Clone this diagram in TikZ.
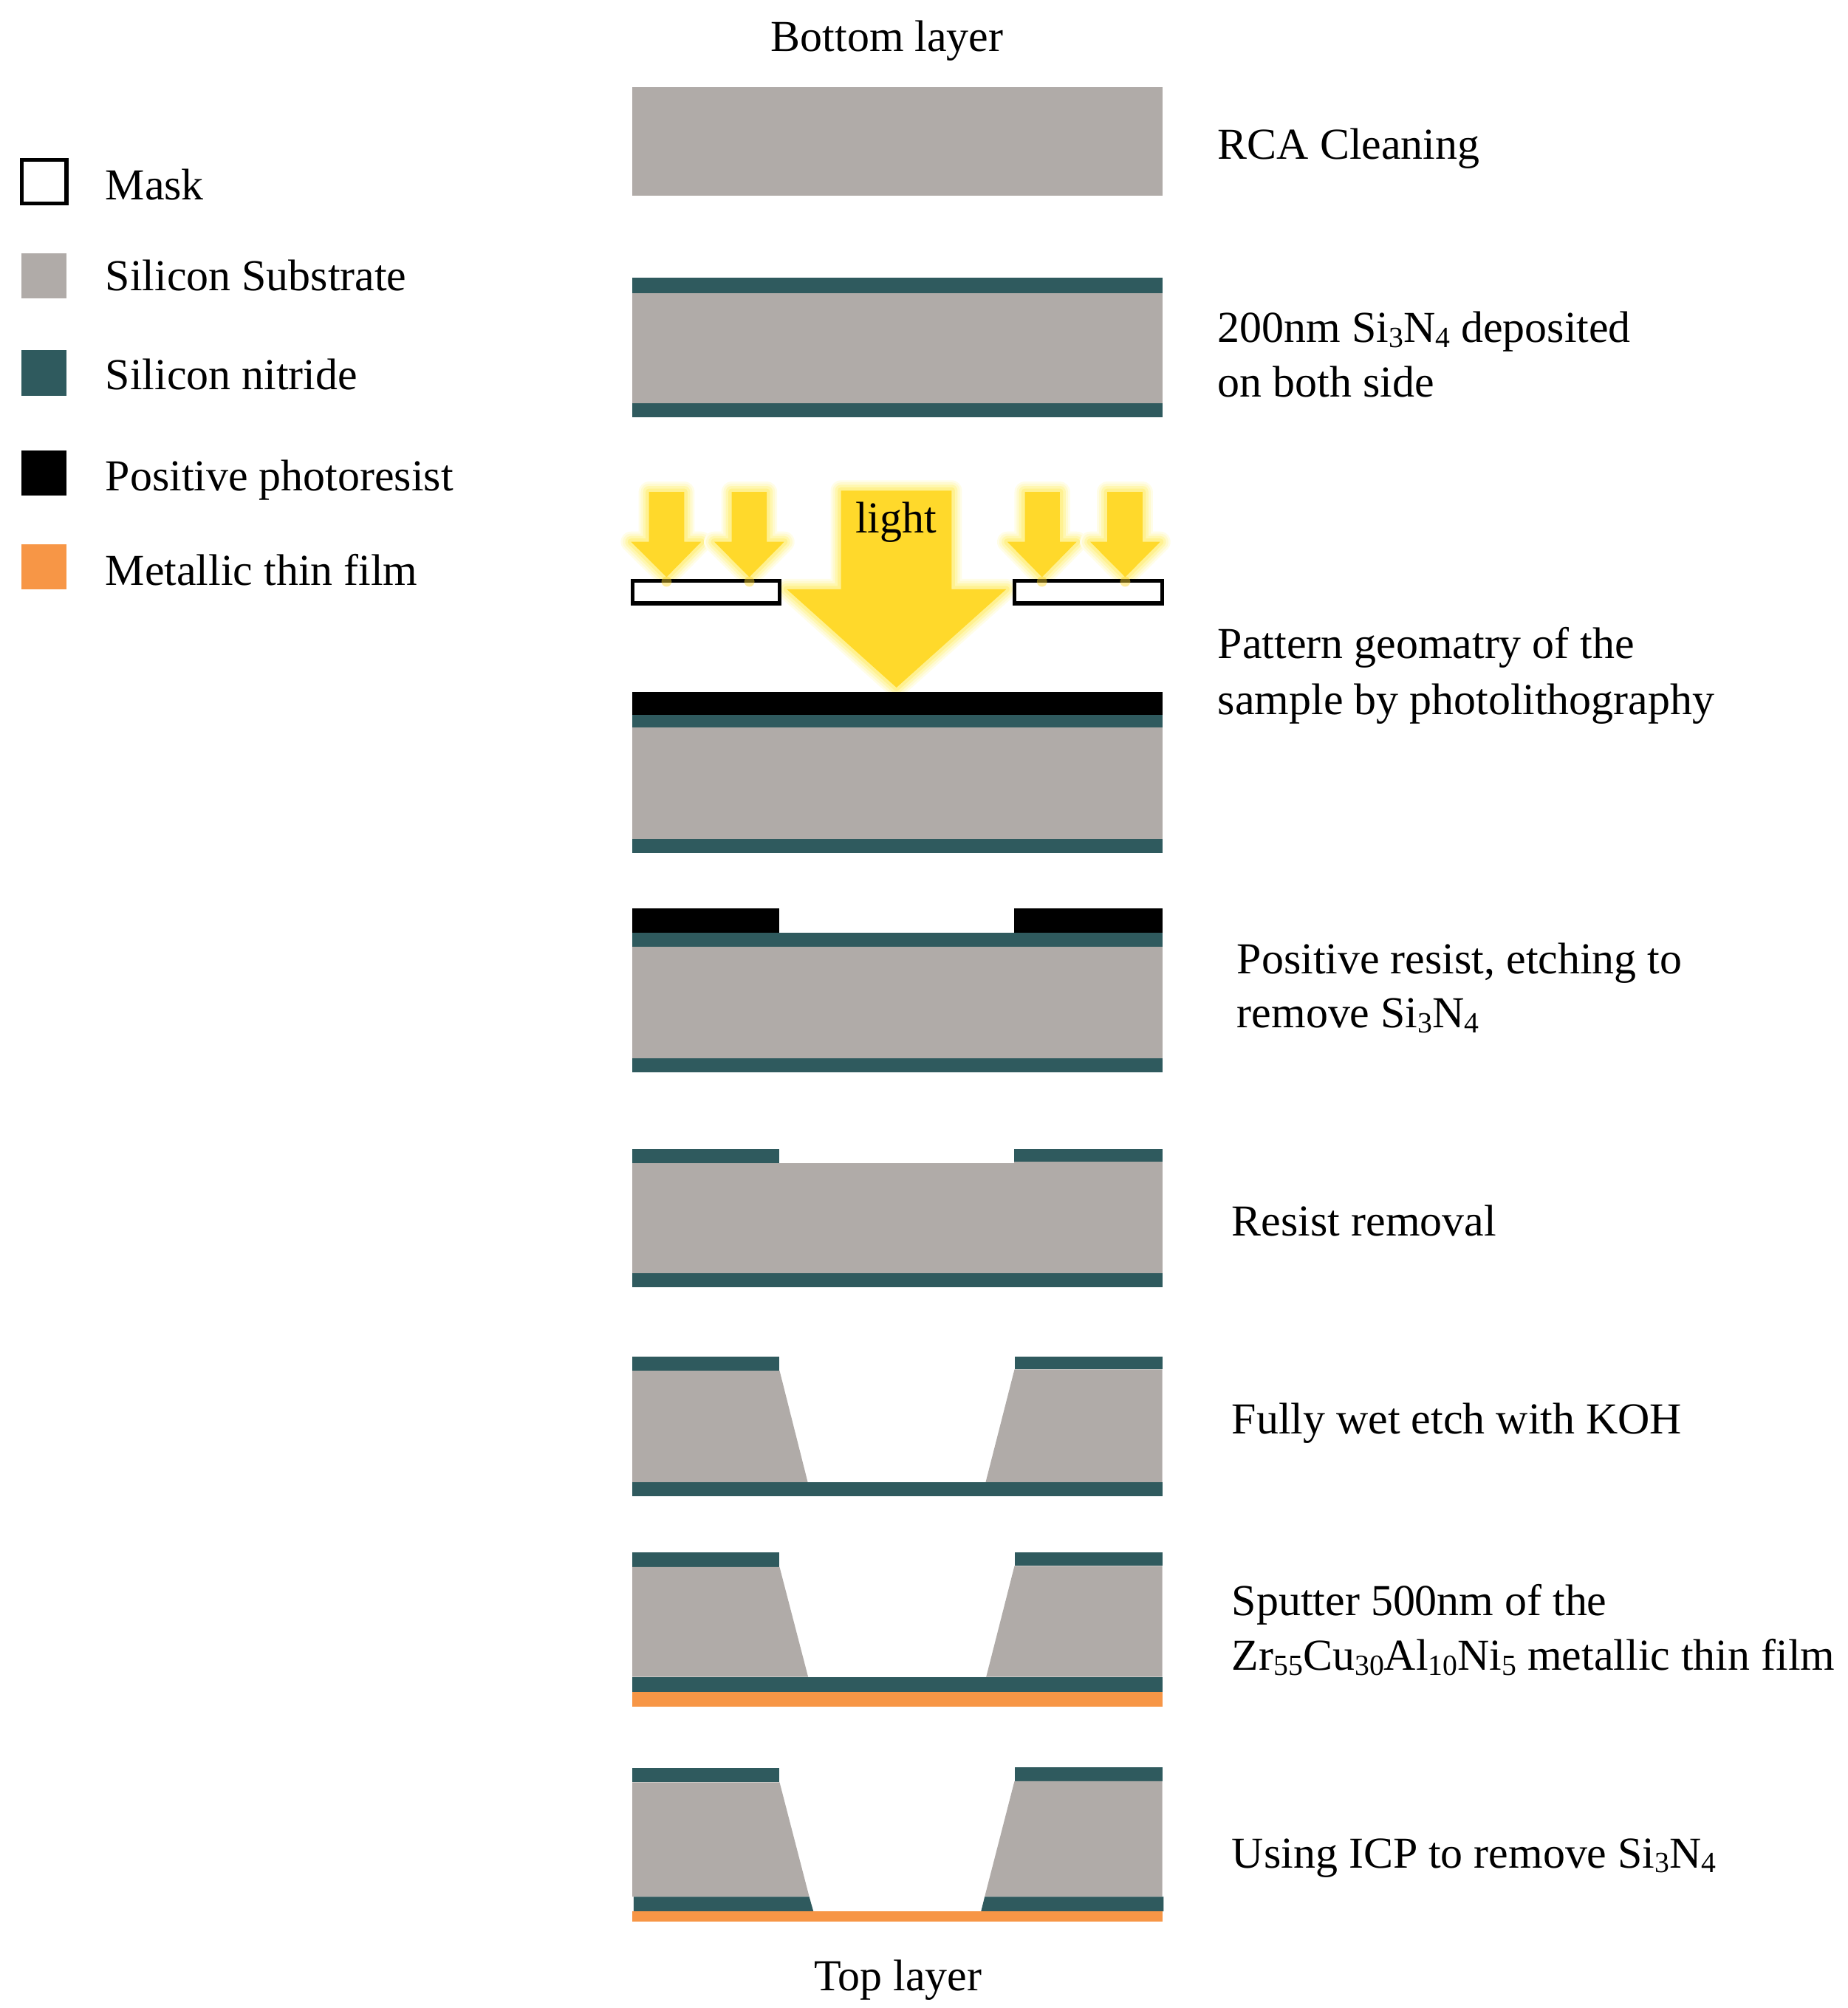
\documentclass[tikz,border=0pt]{standalone}
\usepackage{fontspec}
\setmainfont{Liberation Serif}
\definecolor{sigrey}{HTML}{B0ABA8}
\definecolor{siteal}{HTML}{2F5A5E}
\definecolor{metal}{HTML}{F79646}
\definecolor{lightfill}{HTML}{FFD92B}
\definecolor{glowa}{HTML}{FFFDE8}
\definecolor{glowb}{HTML}{FFFAD0}
\definecolor{glowc}{HTML}{FFF7B0}
\definecolor{glowd}{HTML}{FFF190}
\tikzset{
  si/.style={fill=sigrey},
  sin/.style={fill=siteal},
  resist/.style={fill=black},
  film/.style={fill=metal},
  maskbox/.style={draw=black,fill=white,line width=1.5pt},
  tipglow/.style={fill=lightfill,opacity=0.45},
  txt/.style={anchor=base west,inner sep=0pt,font=\fontsize{17.05pt}{20pt}\selectfont},
  ctxt/.style={anchor=base,inner sep=0pt,font=\fontsize{17.05pt}{20pt}\selectfont},
}
\newcommand{\sbs}[1]{\raisebox{-0.25ex}{\fontsize{11.3pt}{12pt}\selectfont #1}}
\newcommand{\glowshape}[1]{%
  \draw[glowa,line width=8pt,line join=round] #1 -- cycle;
  \draw[glowb,line width=6.4pt,line join=round] #1 -- cycle;
  \draw[glowc,line width=4.6pt,line join=round] #1 -- cycle;
  \draw[glowd,line width=2.6pt,line join=round] #1 -- cycle;
  \fill[lightfill] #1 -- cycle;
}
\begin{document}
\begin{tikzpicture}[x=0.01733cm,y=-0.017346cm]
\useasboundingbox (0,0) rectangle (1443.17,1567.5);
% legend
\draw[maskbox] (17,125) rectangle (52,159);
\fill[si] (17,197.5) rectangle (52,233);
\fill[sin] (17,273.5) rectangle (52,309);
\fill[resist] (17,351.5) rectangle (52,387);
\fill[film] (17,425) rectangle (52,460);
\node[txt] (lmask) at (82,156) {Mask};
\node[txt] (lsi) at (82,227) {Silicon Substrate};
\node[txt] (lsin) at (82,304) {Silicon nitride};
\node[txt] (lres) at (82,383) {Positive photoresist};
\node[txt] (lfilm) at (82,457) {Metallic thin film};
% headings
\node[ctxt] (bottom) at (693,40) {Bottom layer};
\node[ctxt] (top) at (701.5,1554) {Top layer};
% step 1
\fill[si] (494,68) rectangle (908,153);
\node[txt] (t1) at (951,124) {RCA Cleaning};
% step 2
\fill[sin] (494,217) rectangle (908,229);
\fill[si] (494,229) rectangle (908,315);
\fill[sin] (494,315) rectangle (908,326);
\node[txt] (t2a) at (951,267) {200nm Si\sbs{3}N\sbs{4} deposited};
\node[txt] (t2b) at (951,310) {on both side};
% step 3
\glowshape{(507,384) -- (534.5,384) -- (534.5,423) -- (547.7,423) -- (520.7,450.5) -- (493,423) -- (507,423)}
\glowshape{(571.6,384) -- (599,384) -- (599,423) -- (612.6,423) -- (585.4,450.5) -- (558,423) -- (571.6,423)}
\glowshape{(800.6,384) -- (827.9,384) -- (827.9,423) -- (841,423) -- (814,450.5) -- (787,423) -- (800.6,423)}
\glowshape{(865,384) -- (892.5,384) -- (892.5,423) -- (906.3,423) -- (879,450.5) -- (851.7,423) -- (865,423)}
\glowshape{(657,383) -- (743.4,383) -- (743.4,460) -- (786,460) -- (700.3,536.7) -- (614.7,460) -- (657,460)}
\draw[maskbox] (494,453.5) rectangle (609,471);
\draw[maskbox] (792.5,453.5) rectangle (908,471);
\fill[tipglow] (520.7,454) circle (4);
\fill[tipglow] (585.4,454) circle (4);
\fill[tipglow] (814,454) circle (4);
\fill[tipglow] (879,454) circle (4);
\fill[resist] (494,540) rectangle (908,558);
\fill[sin] (494,558) rectangle (908,568);
\fill[si] (494,568) rectangle (908,655);
\fill[sin] (494,655) rectangle (908,666);
\node[ctxt] (light) at (700,416) {light};
\node[txt] (t3a) at (951,514) {Pattern geomatry of the};
\node[txt] (t3b) at (951,558) {sample by photolithography};
% step 4
\fill[resist] (494,709) rectangle (609,728);
\fill[resist] (792,709) rectangle (908,728);
\fill[sin] (494,728) rectangle (908,739);
\fill[si] (494,739) rectangle (908,826);
\fill[sin] (494,826) rectangle (908,837);
\node[txt] (t4a) at (966,760) {Positive resist, etching to};
\node[txt] (t4b) at (966,802) {remove Si\sbs{3}N\sbs{4}};
% step 5
\fill[sin] (494,897) rectangle (609,908);
\fill[sin] (792,897) rectangle (908,907);
\fill[si] (494,908) rectangle (908,994);
\fill[si] (792,907) rectangle (908,908);
\fill[sin] (494,994) rectangle (908,1005);
\node[txt] (t5) at (962,965) {Resist removal};
% step 6
\fill[sin] (494,1059) rectangle (609,1070);
\fill[sin] (792.5,1059) rectangle (908,1069);
\fill[si] (494,1070) -- (609,1070) -- (631,1157) -- (494,1157) -- cycle;
\fill[si] (792.5,1069) -- (908,1069) -- (908,1157) -- (770,1157) -- cycle;
\fill[sin] (494,1157) rectangle (908,1168);
\node[txt] (t6) at (962,1119) {Fully wet etch with KOH};
% step 7
\fill[sin] (494,1212) rectangle (609,1223.3);
\fill[sin] (792.5,1212) rectangle (908,1222.4);
\fill[si] (494,1223.3) -- (609,1223.3) -- (631.3,1309) -- (494,1309) -- cycle;
\fill[si] (792.5,1222.4) -- (908,1222.4) -- (908,1309) -- (770.4,1309) -- cycle;
\fill[sin] (494,1309) rectangle (908,1320.7);
\fill[film] (494,1320.7) rectangle (908,1332.5);
\node[txt] (t7a) at (962,1261) {Sputter 500nm of the};
\node[txt] (t7b) at (962,1304) {Zr\sbs{55}Cu\sbs{30}Al\sbs{10}Ni\sbs{5} metallic thin film};
% step 8
\fill[sin] (494,1380) rectangle (609,1391.3);
\fill[sin] (792.5,1379.5) rectangle (908,1390.4);
\fill[si] (494,1391.3) -- (609,1391.3) -- (632.2,1480.7) -- (494,1480.7) -- cycle;
\fill[si] (792.5,1390.4) -- (908,1390.4) -- (908,1480.7) -- (769.2,1480.7) -- cycle;
\fill[sin] (495,1480.7) -- (632.2,1480.7) -- (635.4,1492) -- (495,1492) -- cycle;
\fill[sin] (769.2,1480.7) -- (909,1480.7) -- (909,1492) -- (766.4,1492) -- cycle;
\fill[film] (494,1492) rectangle (908,1500.3);
\node[txt] (t8) at (962,1458) {Using ICP to remove Si\sbs{3}N\sbs{4}};
\end{tikzpicture}
\end{document}
